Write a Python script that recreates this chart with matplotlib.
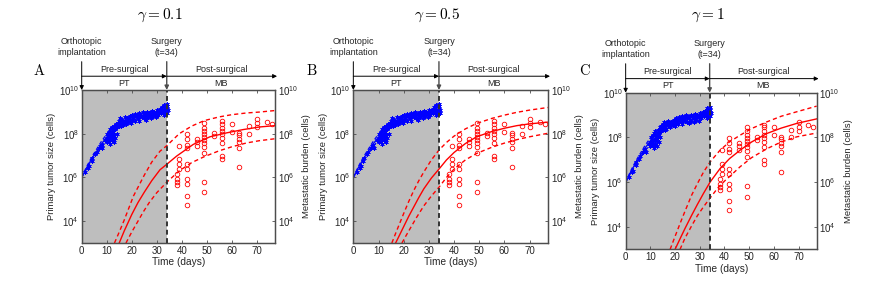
import numpy as np
import matplotlib
matplotlib.use("Agg")
import matplotlib.pyplot as plt
from matplotlib.ticker import FixedLocator, FuncFormatter, NullLocator

plt.rcParams['font.family'] = ['Liberation Sans', 'DejaVu Sans']
plt.rcParams['mathtext.fontset'] = 'custom'
plt.rcParams['mathtext.rm'] = 'Liberation Sans'
plt.rcParams['mathtext.it'] = 'Liberation Sans:italic'
plt.rcParams['mathtext.bf'] = 'Liberation Sans:bold'

# ---- primary tumor measurements (day, log10 cells)
pt_day = [1.5, 2.5, 3.0, 4.0, 4.3, 5.5, 6.0, 7.0, 7.5, 8.0, 8.2,
          9.5, 10, 10, 10.3, 10.5, 10.8, 11, 11, 11.2, 11.5, 11.5, 11.8, 12, 12,
          12.2, 12.5, 12.5, 12.8, 13, 13, 13.3, 13.5, 13.8, 14, 14.2,
          14.5, 14.8, 15, 15.3, 15.5, 16, 16.2, 16.5, 17, 17.3, 17.5, 18, 18.2,
          18.5, 19, 19.3, 19.5, 20, 20.3, 20.5, 21, 21.3,
          21.5, 22, 22.3, 22.5, 23, 23.3, 23.5, 24, 24.5, 24.8, 25, 25.5, 26,
          26.3, 26.5, 27, 27.5, 28, 28.3, 28.5, 29, 29.5, 30, 30.3, 30.5, 31,
          31.5, 31.8, 32, 32.3, 32.5, 32.8, 33, 33.2, 33.5, 33.8, 34, 34.2, 34.3, 34.5,
          15.8, 17.8, 19.8, 22.8, 25.8, 27.8, 29.8, 33.0, 34.0]
pt_log = [6.25, 6.45, 6.5, 6.75, 6.9, 7.05, 7.15, 7.35, 7.45, 7.5, 7.35,
          7.7, 7.6, 7.8, 8.0, 7.9, 7.7, 7.6, 8.1, 7.85, 8.2, 7.55, 7.95, 8.3, 7.7,
          8.05, 7.85, 8.15, 7.6, 8.0, 8.35, 7.8, 8.2, 8.45, 8.0, 8.3,
          8.5, 8.35, 8.6, 8.45, 8.7, 8.5, 8.65, 8.4, 8.55, 8.75, 8.6, 8.5, 8.7,
          8.6, 8.75, 8.55, 8.8, 8.65, 8.85, 8.7, 8.8, 8.6,
          8.9, 8.75, 8.85, 8.7, 8.95, 8.8, 8.9, 8.75, 9.0, 8.85, 8.7, 8.9, 8.8,
          9.0, 8.75, 8.95, 8.85, 9.05, 8.9, 8.8, 9.0, 8.9, 9.1, 8.95, 8.85, 9.05,
          9.15, 8.95, 9.2, 9.05, 8.95, 9.3, 9.1, 8.9, 9.25, 9.0, 9.15, 9.35, 8.95, 9.1,
          8.35, 8.45, 8.5, 8.6, 8.65, 8.7, 8.75, 8.85, 9.25]

# ---- metastatic burden measurements (day, log10 cells)
mb_day = [38, 38, 38, 38, 39, 39, 39, 39,
          42, 42, 42, 42, 42, 42, 42, 42, 42, 42,
          46, 46, 46,
          49, 49, 49, 49, 49, 49, 49, 49, 49, 49, 49,
          53, 53,
          56, 56, 56, 56, 56, 56, 56, 56, 56,
          60, 60,
          63, 63, 63, 63, 63, 63,
          67, 67, 70, 70, 70, 74, 76]
mb_log = [6.15, 5.93, 5.78, 5.66, 7.44, 6.83, 6.61, 6.38,
          7.97, 7.74, 7.47, 7.36, 6.61, 6.38, 5.93, 5.70, 5.17, 4.75,
          7.77, 7.62, 7.44,
          8.49, 8.27, 8.11, 7.97, 7.86, 7.71, 7.59, 7.39, 7.13, 5.81, 5.35,
          8.04, 7.89,
          8.57, 8.46, 8.27, 8.11, 7.97, 7.81, 7.59, 6.98, 6.83,
          8.46, 8.09,
          8.04, 7.92, 7.77, 7.62, 7.36, 6.46,
          8.34, 8.00, 8.67, 8.49, 8.30, 8.54, 8.46]

# ---- primary tumor model fit (log10 cells)
pt_fit_t = [0, 2, 4, 6, 8, 10, 12, 14, 17, 20, 25, 30, 34]
pt_fit = [6.0, 6.45, 6.85, 7.2, 7.55, 7.85, 8.1, 8.3, 8.52, 8.68, 8.86, 8.97, 9.03]
pt_hi = [6.0, 6.5, 6.93, 7.3, 7.67, 7.98, 8.23, 8.43, 8.64, 8.8, 8.97, 9.07, 9.13]
pt_lo = [6.0, 6.4, 6.77, 7.1, 7.43, 7.72, 7.97, 8.17, 8.4, 8.56, 8.75, 8.87, 8.93]

# ---- metastatic burden model predictions, one set per gamma
gammas = ['0.1', '0.5', '1']
letters = ['A', 'B', 'C']

mb_fit_t = [[15, 17, 20, 22.5, 25, 28, 31.3, 34, 38, 44.6, 51.3, 58, 64.6, 71.3, 77.3],
            [16.8, 18, 20, 22, 24, 26, 28, 31, 34, 37, 40, 44.5, 49, 55, 60, 65, 70, 77.3],
            [20, 22, 24, 26.7, 29, 31.5, 34.2, 38.2, 42, 46.3, 51, 57.2, 63, 69.3, 77.3]]
mb_fit = [[3.0, 3.55, 4.3, 4.85, 5.32, 5.85, 6.35, 6.6, 6.98, 7.51, 7.86, 8.04, 8.19, 8.31, 8.37],
          [3.0, 3.28, 3.75, 4.22, 4.65, 5.08, 5.48, 5.97, 6.38, 6.8, 7.14, 7.55, 7.86, 8.1, 8.25, 8.37, 8.45, 8.53],
          [3.0, 3.47, 3.93, 4.52, 5.0, 5.5, 6.01, 6.61, 7.05, 7.43, 7.8, 8.18, 8.42, 8.63, 8.83]]

mb_hi_t = [[13.1, 15, 17, 20.7, 25, 28, 31.3, 34, 39, 44, 49, 55, 60, 66, 71, 77.3],
           [15.3, 17, 20, 22, 24, 26, 28, 31, 34, 37, 40, 44.5, 49, 55, 60, 65, 70, 77.3],
           [18, 20, 22, 24, 26.7, 29, 31.5, 34.2, 38.2, 42, 46.3, 51, 57.2, 63, 69.3, 77.3]]
mb_hi = [[3.0, 3.5, 4.05, 5.15, 6.1, 6.7, 7.2, 7.45, 8.0, 8.35, 8.6, 8.77, 8.87, 8.95, 8.99, 9.06],
         [3.0, 3.5, 4.35, 4.9, 5.4, 5.85, 6.25, 6.8, 7.25, 7.6, 7.89, 8.22, 8.47, 8.7, 8.85, 8.98, 9.08, 9.2],
         [3.0, 3.58, 4.15, 4.7, 5.42, 5.93, 6.45, 6.91, 7.43, 7.8, 8.1, 8.4, 8.7, 8.95, 9.15, 9.4]]

mb_lo_t = [[17.7, 20, 22.5, 24.6, 27, 30, 34, 39, 44, 49, 55, 60, 66, 71, 77.3],
           [19.3, 21, 23, 25, 28, 31, 34, 37, 40, 44.5, 49, 55, 60, 65, 70, 77.3],
           [22, 24, 26.7, 29, 31.5, 34.2, 37, 40, 43, 46.3, 51, 57.2, 63, 69.3, 77.3]]
mb_lo = [[3.0, 3.5, 4.0, 4.42, 4.85, 5.3, 5.78, 6.3, 6.68, 6.95, 7.22, 7.4, 7.58, 7.68, 7.77],
         [3.0, 3.35, 3.75, 4.15, 4.7, 5.15, 5.55, 6.0, 6.38, 6.8, 7.1, 7.38, 7.57, 7.73, 7.86, 8.02],
         [3.0, 3.5, 4.05, 4.5, 4.9, 5.3, 5.7, 6.05, 6.35, 6.69, 7.1, 7.5, 7.8, 8.03, 8.2]]

surgery = 34
xmax = 77.3

# axes rectangles [left, bottom, width, height] in figure fraction
rects = [[0.0937, 0.198, 0.2217, 0.505],
         [0.4052, 0.198, 0.2232, 0.505],
         [0.7175, 0.177, 0.219, 0.517]]
title_x = [0.1835, 0.501, 0.812]
letter_x = [0.045, 0.358, 0.671]

fig = plt.figure(figsize=(8.72, 3.03), dpi=100)

def pow_fmt(v, pos):
    return r'$10^{%d}$' % int(round(np.log10(v)))

spine_col = '0.3'
txt_col = '0.15'

for i in range(3):
    ax = fig.add_axes(rects[i])
    ax.axvspan(0, surgery, color='#bebebe', lw=0, zorder=0)

    ax.plot(np.array(pt_day), 10 ** np.array(pt_log), ls='none', marker=(6, 2, 0),
            ms=3.2, mew=0.5, color='#0000ff', zorder=3)
    ax.plot(pt_fit_t, 10 ** np.array(pt_fit), color='#0000ff', lw=0.9, zorder=2)
    ax.plot(pt_fit_t, 10 ** np.array(pt_hi), color='#0000ff', lw=0.9, dashes=(3, 2), zorder=2)
    ax.plot(pt_fit_t, 10 ** np.array(pt_lo), color='#0000ff', lw=0.9, dashes=(3, 2), zorder=2)

    ax.plot(mb_day, 10 ** np.array(mb_log), ls='none', marker='o', ms=3.3,
            mfc='none', mec='#ff0000', mew=0.6, zorder=3)
    ax.plot(mb_fit_t[i], 10 ** np.array(mb_fit[i]), color='#ff0000', lw=1.0, zorder=2)
    ax.plot(mb_hi_t[i], 10 ** np.array(mb_hi[i]), color='#ff0000', lw=1.0, dashes=(3, 2.2), zorder=2)
    ax.plot(mb_lo_t[i], 10 ** np.array(mb_lo[i]), color='#ff0000', lw=1.0, dashes=(3, 2.2), zorder=2)

    ax.axvline(surgery, color='0.2', lw=1.4, dashes=(2.5, 1.8), zorder=4)

    ax.set_yscale('log')
    ax.set_xlim(0, xmax)
    ax.set_ylim(1e3, 1e10)
    ax.set_xticks([0, 10, 20, 30, 40, 50, 60, 70])
    ax.yaxis.set_major_locator(FixedLocator([1e4, 1e6, 1e8, 1e10]))
    ax.yaxis.set_minor_locator(NullLocator())
    ax.yaxis.set_major_formatter(FuncFormatter(pow_fmt))
    ax.tick_params(direction='in', length=2.5, width=0.6, labelsize=7,
                   colors=spine_col, labelcolor=txt_col, top=True, pad=2)
    for s in ax.spines.values():
        s.set_color(spine_col)
        s.set_linewidth(0.9)
    ax.set_xlabel('Time (days)', fontsize=7.3, color=txt_col, labelpad=1)
    ax.set_ylabel('Primary tumor size (cells)', fontsize=6.8, color=txt_col, labelpad=2)

    ax2 = ax.twinx()
    ax2.set_yscale('log')
    ax2.set_ylim(1e3, 1e10)
    ax2.yaxis.set_major_locator(FixedLocator([1e4, 1e6, 1e8, 1e10]))
    ax2.yaxis.set_minor_locator(NullLocator())
    ax2.yaxis.set_major_formatter(FuncFormatter(pow_fmt))
    ax2.tick_params(direction='in', length=2.5, width=0.6, labelsize=7,
                    colors=spine_col, labelcolor=txt_col, pad=2)
    for s in ax2.spines.values():
        s.set_color(spine_col)
        s.set_linewidth(0.9)
    ax2.set_ylabel('Metastatic burden (cells)', fontsize=6.8, color=txt_col, labelpad=3)

    # timeline above the plot
    tr = ax.get_xaxis_transform()
    arr = dict(arrowstyle='-|>', color='k', lw=0.7, mutation_scale=6, shrinkA=0, shrinkB=0)
    ax.annotate('', xy=(0, 1.0), xytext=(0, 1.185), xycoords=tr, textcoords=tr,
                arrowprops=arr, annotation_clip=False)
    ax.annotate('', xy=(surgery, 1.0), xytext=(surgery, 1.185), xycoords=tr, textcoords=tr,
                arrowprops=dict(arr, color='0.3', lw=1.0), annotation_clip=False)
    ax.annotate('', xy=(surgery, 1.09), xytext=(0, 1.09), xycoords=tr, textcoords=tr,
                arrowprops=arr, annotation_clip=False)
    ax.annotate('', xy=(xmax + 0.8, 1.09), xytext=(surgery, 1.09), xycoords=tr, textcoords=tr,
                arrowprops=arr, annotation_clip=False)
    ax.text(0, 1.215, 'Orthotopic\nimplantation', transform=tr, ha='center', va='bottom',
            fontsize=6.5, color=txt_col, linespacing=1.3)
    ax.text(surgery, 1.215, 'Surgery\n(t=34)', transform=tr, ha='center', va='bottom',
            fontsize=6.5, color=txt_col, linespacing=1.3)
    ax.text(surgery / 2, 1.105, 'Pre-surgical', transform=tr, ha='center', va='bottom',
            fontsize=6.5, color=txt_col)
    ax.text(surgery / 2, 1.075, 'PT', transform=tr, ha='center', va='top',
            fontsize=6.5, color=txt_col)
    ax.text(55.7, 1.105, 'Post-surgical', transform=tr, ha='center', va='bottom',
            fontsize=6.5, color=txt_col)
    ax.text(55.7, 1.075, 'MB', transform=tr, ha='center', va='top',
            fontsize=6.5, color=txt_col)

    fig.text(title_x[i], 0.948, r'$\gamma = \mathbf{%s}$' % gammas[i], ha='center', va='center',
             fontsize=11, math_fontfamily='cm')
    fig.text(letter_x[i], 0.766, r'$\mathrm{%s}$' % letters[i], ha='center', va='center',
             fontsize=10.5, math_fontfamily='cm')

fig.savefig('out.png', dpi=100)
